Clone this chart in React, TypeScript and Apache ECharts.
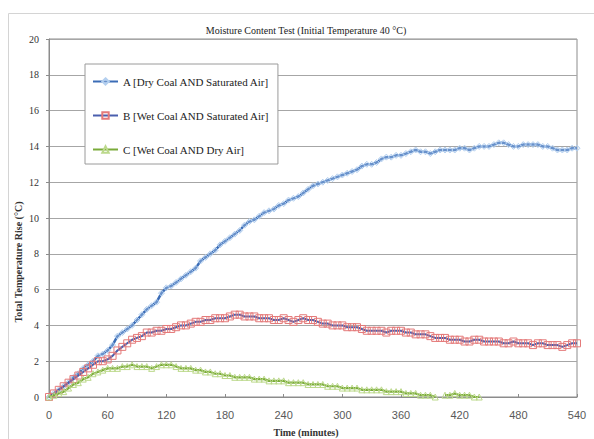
import React, { useEffect, useRef } from "react";
import * as echarts from "echarts";

const TITLE = "Moisture Content Test (Initial Temperature 40 °C)";
const X_NAME = "Time (minutes)";
const Y_NAME = "Total Temperature Rise (°C)";
const SERIES_NAMES = [
  "A [Dry Coal AND Saturated Air]",
  "B [Wet Coal AND Saturated Air]",
  "C [Wet Coal AND Dry Air]",
];

const TIMES = [
  0, 5, 10, 15, 20, 25, 30, 35, 40, 45, 50, 55, 60, 65, 70, 75, 80, 85, 90, 95,
  100, 105, 110, 115, 120, 125, 130, 135, 140, 145, 150, 155, 160, 165, 170, 175,
  180, 185, 190, 195, 200, 205, 210, 215, 220, 225, 230, 235, 240, 245, 250, 255,
  260, 265, 270, 275, 280, 285, 290, 295, 300, 305, 310, 315, 320, 325, 330, 335,
  340, 345, 350, 355, 360, 365, 370, 375, 380, 385, 390, 395, 400, 405, 410, 415,
  420, 425, 430, 435, 440, 445, 450, 455, 460, 465, 470, 475, 480, 485, 490, 495,
  500, 505, 510, 515, 520, 525, 530, 535, 540,
];

const A_VALUES = [
  0.0, 0.2, 0.4, 0.6, 0.8, 1.1, 1.3, 1.6, 1.8, 2.0, 2.3, 2.4, 2.6, 2.9, 3.4, 3.6, 3.8, 4.0, 4.3, 4.6,
  4.9, 5.1, 5.3, 5.8, 6.1, 6.2, 6.4, 6.6, 6.8, 7.0, 7.2, 7.6, 7.8, 8.0, 8.2, 8.5,
  8.7, 8.9, 9.1, 9.3, 9.6, 9.8, 9.9, 10.1, 10.3, 10.4, 10.5, 10.7, 10.8, 11.0, 11.1, 11.2,
  11.4, 11.6, 11.8, 11.9, 12.0, 12.1, 12.2, 12.3, 12.4, 12.5, 12.6, 12.7, 12.9, 13.0, 13.0, 13.1,
  13.3, 13.4, 13.4, 13.5, 13.5, 13.6, 13.7, 13.8, 13.7, 13.7, 13.6, 13.7, 13.8, 13.8, 13.8, 13.8,
  13.9, 13.9, 13.8, 13.9, 14.0, 14.0, 14.0, 14.1, 14.2, 14.2, 14.1, 14.0, 14.0, 14.1, 14.1, 14.1,
  14.1, 14.0, 14.0, 13.9, 13.8, 13.8, 13.8, 13.9, 13.9,
];

const B_VALUES = [
  0.0, 0.2, 0.4, 0.6, 0.8, 1.0, 1.2, 1.4, 1.6, 1.8, 2.0, 2.0, 2.1, 2.3, 2.6, 2.8, 3.0, 3.2, 3.3, 3.4,
  3.6, 3.6, 3.7, 3.7, 3.8, 3.8, 3.9, 4.0, 4.0, 4.1, 4.2, 4.2, 4.3, 4.3, 4.4, 4.4,
  4.4, 4.5, 4.6, 4.6, 4.5, 4.5, 4.5, 4.4, 4.4, 4.4, 4.3, 4.3, 4.4, 4.3, 4.2, 4.3,
  4.4, 4.3, 4.3, 4.2, 4.1, 4.1, 4.0, 4.0, 4.0, 3.9, 3.9, 3.9, 3.8, 3.7, 3.7, 3.7,
  3.7, 3.6, 3.7, 3.7, 3.7, 3.6, 3.6, 3.5, 3.5, 3.5, 3.4, 3.3, 3.3, 3.3, 3.2, 3.2,
  3.2, 3.1, 3.1, 3.2, 3.2, 3.1, 3.1, 3.1, 3.1, 3.0, 3.0, 3.1, 3.0, 3.0, 3.0, 2.9,
  3.0, 3.0, 2.9, 2.9, 2.9, 2.8, 2.9, 3.0, 3.0,
];

const C_VALUES: (number | null)[] = [
  0.0, 0.1, 0.2, 0.3, 0.5, 0.7, 0.8, 1.0, 1.1, 1.3, 1.4, 1.5, 1.6, 1.6, 1.6, 1.7, 1.7, 1.8, 1.7, 1.7,
  1.7, 1.6, 1.7, 1.8, 1.8, 1.8, 1.7, 1.6, 1.6, 1.6, 1.5, 1.5, 1.4, 1.4, 1.3, 1.3,
  1.2, 1.2, 1.1, 1.1, 1.1, 1.1, 1.0, 1.0, 1.0, 0.9, 0.9, 0.9, 0.9, 0.8, 0.8, 0.8,
  0.8, 0.7, 0.7, 0.7, 0.7, 0.6, 0.6, 0.6, 0.5, 0.5, 0.5, 0.5, 0.4, 0.4, 0.4, 0.4,
  0.4, 0.3, 0.3, 0.3, 0.3, 0.2, 0.2, 0.2, 0.1, 0.1, 0.1, 0.0, null, 0.1, 0.1, 0.2,
  0.1, 0.1, 0.1, 0.0, 0.0,
];

const toPairs = (vals: (number | null)[]) =>
  vals.map((v, i) => [TIMES[i], v === null ? "-" : v]);

export default function App() {
  const ref = useRef<HTMLDivElement>(null);
  useEffect(() => {
    if (!ref.current) return;
    const chart = echarts.init(ref.current, undefined, { renderer: "svg" });
    const serif = "'Liberation Serif', 'Times New Roman', serif";
    const sans = "'Liberation Sans', Arial, sans-serif";
    chart.setOption({
      animation: false,
      backgroundColor: "#ffffff",
      grid: {
        left: 49,
        right: 17,
        top: 39,
        bottom: 42,
        show: true,
        borderColor: "#8c8c8c",
        borderWidth: 1,
        backgroundColor: "transparent",
      },
      graphic: [
        {
          type: "rect",
          z: -10,
          shape: { x: 8.5, y: 13.5, width: 700, height: 600 },
          style: { fill: "none", stroke: "#d4d4d4", lineWidth: 1 },
        },
        {
          type: "text",
          x: 306,
          y: 30,
          style: {
            text: TITLE,
            font: `10px ${serif}`,
            fill: "#222",
            align: "center",
            verticalAlign: "middle",
          },
        },
        {
          type: "text",
          x: 18,
          y: 262,
          rotation: Math.PI / 2,
          style: {
            text: Y_NAME,
            font: `bold 10px ${serif}`,
            fill: "#333",
            align: "center",
            verticalAlign: "middle",
          },
        },
        {
          type: "text",
          x: 306,
          y: 432,
          style: {
            text: X_NAME,
            font: `bold 10px ${serif}`,
            fill: "#333",
            align: "center",
            verticalAlign: "middle",
          },
        },
      ],
      legend: {
        orient: "vertical",
        left: 85,
        top: 64,
        padding: [12, 8, 9, 7],
        itemGap: 23,
        itemWidth: 25,
        itemHeight: 8,
        backgroundColor: "#ffffff",
        borderColor: "#9a9a9a",
        borderWidth: 1,
        textStyle: { fontFamily: serif, fontSize: 11, color: "#222" },
        data: SERIES_NAMES,
      },
      xAxis: {
        type: "value",
        min: 0,
        max: 540,
        interval: 60,
        axisLine: { show: true, lineStyle: { color: "#8c8c8c" } },
        axisTick: { show: true, inside: true, length: 3, lineStyle: { color: "#8c8c8c" } },
        axisLabel: { fontFamily: sans, fontSize: 11, color: "#595959", margin: 12 },
        splitLine: { show: false },
      },
      yAxis: {
        type: "value",
        min: 0,
        max: 20,
        interval: 2,
        axisLine: { show: true, lineStyle: { color: "#8c8c8c" } },
        axisTick: { show: true, length: 3, lineStyle: { color: "#8c8c8c" } },
        axisLabel: { fontFamily: serif, fontSize: 10, color: "#333", margin: 10 },
        splitLine: { show: true, lineStyle: { color: "#a6a6a6", width: 1 } },
      },
      series: [
        {
          name: SERIES_NAMES[0],
          type: "line",
          data: toPairs(A_VALUES),
          symbol: "diamond",
          symbolSize: 6,
          showAllSymbol: true,
          lineStyle: { color: "#3b6cb6", width: 2.5 },
          itemStyle: { color: "rgba(190,214,243,0.35)", borderColor: "#b3cfef", borderWidth: 1 },
          z: 2,
        },
        {
          name: SERIES_NAMES[1],
          type: "line",
          data: toPairs(B_VALUES),
          symbol: "rect",
          symbolSize: 7,
          showAllSymbol: true,
          lineStyle: { color: "#4a5fae", width: 2 },
          itemStyle: { color: "rgba(255,255,255,0)", borderColor: "#e47a7a", borderWidth: 1 },
          z: 3,
        },
        {
          name: SERIES_NAMES[2],
          type: "line",
          data: toPairs(C_VALUES),
          symbol: "triangle",
          symbolSize: 6,
          showAllSymbol: true,
          connectNulls: false,
          lineStyle: { color: "#7aab3a", width: 2.2 },
          itemStyle: { color: "rgba(255,255,255,0)", borderColor: "#bcd98c", borderWidth: 1 },
          z: 4,
        },
      ],
    });
    return () => chart.dispose();
  }, []);
  return <div ref={ref} style={{ width: 594, height: 439, position: "absolute", left: 0, top: 0 }} />;
}
